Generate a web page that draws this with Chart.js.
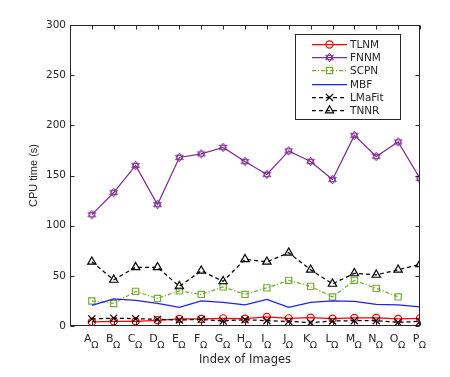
<!DOCTYPE html>
<html>
<head>
<meta charset="utf-8">
<script src="https://cdn.jsdelivr.net/npm/chart.js@4/dist/chart.umd.min.js"></script>
<style>
html, body { margin: 0; padding: 0; background: #fff; }
#wrap { width: 450px; height: 377px; }
</style>
</head>
<body>
<div id="wrap"><canvas id="cpu-chart" width="450" height="377"></canvas></div>
<script>
const categories = ['A','B','C','D','E','F','G','H','I','J','K','L','M','N','O','P']
const subscript = 'Ω'
const yTicks = [0, 50, 100, 150, 200, 250, 300]

const tlnm   = [4, 4.7, 4.7, 5.7, 7, 7, 7.6, 7.3, 9, 7.6, 8.3, 7.3, 8, 8, 7, 7.6]
const fnnm   = [111, 133, 160, 121, 168, 171.5, 178, 164, 151, 174.5, 164, 146, 190, 169, 183.5, 147]
const scpn   = [25, 22.5, 34.5, 27.5, 35, 31.5, 39, 31.5, 38, 45.5, 39.5, 29, 45.5, 37.5, 29, null]
const mbf    = [20.5, 27, 25.5, 22.5, 18.5, 25, 23.5, 21, 26.5, 18.5, 23.5, 25, 24.5, 21.5, 21, 19]
const lmafit = [7, 7.8, 7.3, 6.6, 6, 6.6, 5, 6.3, 5.3, 4.6, 3.3, 5, 5.3, 5.3, 3.7, 4.6]
const tnnr   = [64, 46, 58.5, 58.5, 39.5, 55, 44.5, 66.5, 64, 73, 56, 42, 52.5, 51, 56, 61.5]

const axisColor = '#262626'
const tickFont = '11px "DejaVu Sans"'
const subFont = '9.5px "DejaVu Sans"'

// six pointed star marker for FNNM
function hexagram(color) {
    const c = document.createElement('canvas')
    c.width = 11
    c.height = 11
    const g = c.getContext('2d')
    g.strokeStyle = color
    g.lineWidth = 1
    const r = 4.4
    for (const start of [-Math.PI / 2, Math.PI / 2]) {
        g.beginPath()
        for (let k = 0; k < 3; k++) {
            const a = start + k * 2 * Math.PI / 3
            const px = 5.5 + r * Math.cos(a), py = 5.5 + r * Math.sin(a)
            k === 0 ? g.moveTo(px, py) : g.lineTo(px, py)
        }
        g.closePath()
        g.stroke()
    }
    return c
}

const toPoints = vals => vals.map((v, i) => ({ x: i + 1, y: v }))

const series = [
    { label: 'TLNM',   values: tlnm,   color: '#ff0000', style: 'circle',   radius: 3.6, dash: [] },
    { label: 'FNNM',   values: fnnm,   color: '#7e2f8e', style: hexagram('#7e2f8e'), radius: 4, dash: [] },
    { label: 'SCPN',   values: scpn,   color: '#77ac30', style: 'rect',     radius: 4.4, dash: [4, 2, 1, 2] },
    { label: 'MBF',    values: mbf,    color: '#1f1fff', style: false,      radius: 0, dash: [] },
    { label: 'LMaFit', values: lmafit, color: '#000000', style: 'crossRot', radius: 5, dash: [4, 3] },
    { label: 'TNNR',   values: tnnr,   color: '#000000', style: 'triangle', radius: 4.8, dash: [4, 3] },
]

const datasets = series.map((s, i) => ({
    label: s.label,
    data: toPoints(s.values),
    borderColor: s.color,
    backgroundColor: 'rgba(0,0,0,0)',
    borderWidth: 1.25,
    borderDash: s.dash,
    pointStyle: s.style,
    pointRadius: s.radius,
    pointBorderColor: s.color,
    pointBackgroundColor: 'rgba(0,0,0,0)',
    pointBorderWidth: 1.2,
    tension: 0,
    spanGaps: false,
    order: series.length - i,
}))

function drawMarker(ctx, s, x, y) {
    if (!s.style) return
    ctx.save()
    ctx.setLineDash([])
    ctx.strokeStyle = s.color
    ctx.lineWidth = 1.2
    const r = s.radius
    ctx.beginPath()
    if (s.style === 'circle') {
        ctx.arc(x, y, r, 0, Math.PI * 2)
    } else if (s.style === 'rect') {
        const h = r * Math.SQRT1_2
        ctx.rect(x - h, y - h, 2 * h, 2 * h)
    } else if (s.style === 'crossRot') {
        const h = r * Math.SQRT1_2
        ctx.moveTo(x - h, y - h); ctx.lineTo(x + h, y + h)
        ctx.moveTo(x + h, y - h); ctx.lineTo(x - h, y + h)
    } else if (s.style === 'triangle') {
        ctx.moveTo(x, y - r)
        ctx.lineTo(x + r * Math.sqrt(3) / 2, y + r / 2)
        ctx.lineTo(x - r * Math.sqrt(3) / 2, y + r / 2)
        ctx.closePath()
    } else {
        ctx.drawImage(s.style, x - s.style.width / 2, y - s.style.height / 2)
    }
    ctx.stroke()
    ctx.restore()
}

const frame = {
    id: 'frame',
    afterDatasetsDraw(chart) {
        const { ctx, chartArea: a, scales } = chart
        ctx.save()
        ctx.strokeStyle = axisColor
        ctx.lineWidth = 1
        ctx.setLineDash([])
        const L = Math.round(a.left) + 0.5, R = Math.round(a.right) - 0.5
        const T = Math.round(a.top) + 0.5, B = Math.round(a.bottom) - 0.5
        ctx.strokeRect(L, T, R - L, B - T)
        ctx.beginPath()
        yTicks.forEach(v => {
            const y = Math.round(scales.y.getPixelForValue(v)) + 0.5
            ctx.moveTo(L, y); ctx.lineTo(L + 4, y)
            ctx.moveTo(R, y); ctx.lineTo(R - 4, y)
        })
        categories.forEach((c, i) => {
            const x = Math.round(scales.x.getPixelForValue(i + 1)) + 0.5
            ctx.moveTo(x, B); ctx.lineTo(x, B - 4)
            ctx.moveTo(x, T); ctx.lineTo(x, T + 4)
        })
        ctx.stroke()

        // subscript omega after each category letter
        ctx.fillStyle = axisColor
        ctx.textAlign = 'left'
        ctx.textBaseline = 'alphabetic'
        categories.forEach((c, i) => {
            ctx.font = tickFont
            const w = ctx.measureText(c).width
            const x = scales.x.getPixelForValue(i + 1) - 4 + w / 2 - 0.5
            ctx.font = subFont
            ctx.fillText(subscript, x, 348)
        })
        ctx.restore()
    },
    afterDraw(chart) {
        const { ctx } = chart
        ctx.save()
        ctx.fillStyle = '#fff'
        ctx.fillRect(295, 34, 105, 85)
        ctx.strokeStyle = axisColor
        ctx.lineWidth = 1
        ctx.strokeRect(295.5, 34.5, 105, 85)
        ctx.font = '10.5px "DejaVu Sans"'
        ctx.textAlign = 'left'
        ctx.textBaseline = 'middle'
        series.forEach((s, i) => {
            const y = Math.round(44 + i * 13.2) + 0.5
            ctx.strokeStyle = s.color
            ctx.lineWidth = 1.25
            ctx.setLineDash(s.dash)
            ctx.beginPath()
            ctx.moveTo(312, y); ctx.lineTo(347, y)
            ctx.stroke()
            drawMarker(ctx, s, 329.5, y)
            ctx.fillStyle = axisColor
            ctx.fillText(s.label, 350, y + 0.5)
        })
        ctx.restore()
    }
}

const config = {
    type: 'line',
    data: { datasets },
    options: {
        responsive: false,
        animation: false,
        layout: { padding: { top: 25, right: 30, left: 0, bottom: 0 } },
        plugins: { legend: { display: false }, tooltip: { enabled: false } },
        scales: {
            x: {
                type: 'linear',
                min: 0,
                max: 16,
                afterFit: scale => { scale.height = 51 },
                afterBuildTicks: scale => { scale.ticks = categories.map((c, i) => ({ value: i + 1 })) },
                grid: { display: false, drawTicks: false },
                border: { display: false },
                ticks: {
                    autoSkip: false,
                    maxRotation: 0,
                    padding: 7,
                    labelOffset: -4,
                    color: axisColor,
                    font: { family: 'DejaVu Sans', size: 11 },
                    callback: v => categories[v - 1] || '',
                },
                title: {
                    display: true,
                    text: 'Index of Images',
                    color: axisColor,
                    font: { family: 'DejaVu Sans', size: 11.5 },
                    padding: { top: 0, bottom: 10 },
                },
            },
            y: {
                min: 0,
                max: 300,
                afterFit: scale => { scale.width = 70 },
                afterBuildTicks: scale => { scale.ticks = yTicks.map(v => ({ value: v })) },
                grid: { display: false, drawTicks: false },
                border: { display: false },
                ticks: {
                    padding: 4,
                    color: axisColor,
                    font: { family: 'DejaVu Sans', size: 10.5 },
                },
                title: {
                    display: true,
                    text: 'CPU time (s)',
                    color: axisColor,
                    font: { family: 'Liberation Sans', size: 11 },
                    padding: { top: 27, bottom: 0 },
                },
            },
        },
    },
    plugins: [frame],
}

const cpuChart = new Chart(document.getElementById('cpu-chart'), config)
</script>
</body>
</html>
